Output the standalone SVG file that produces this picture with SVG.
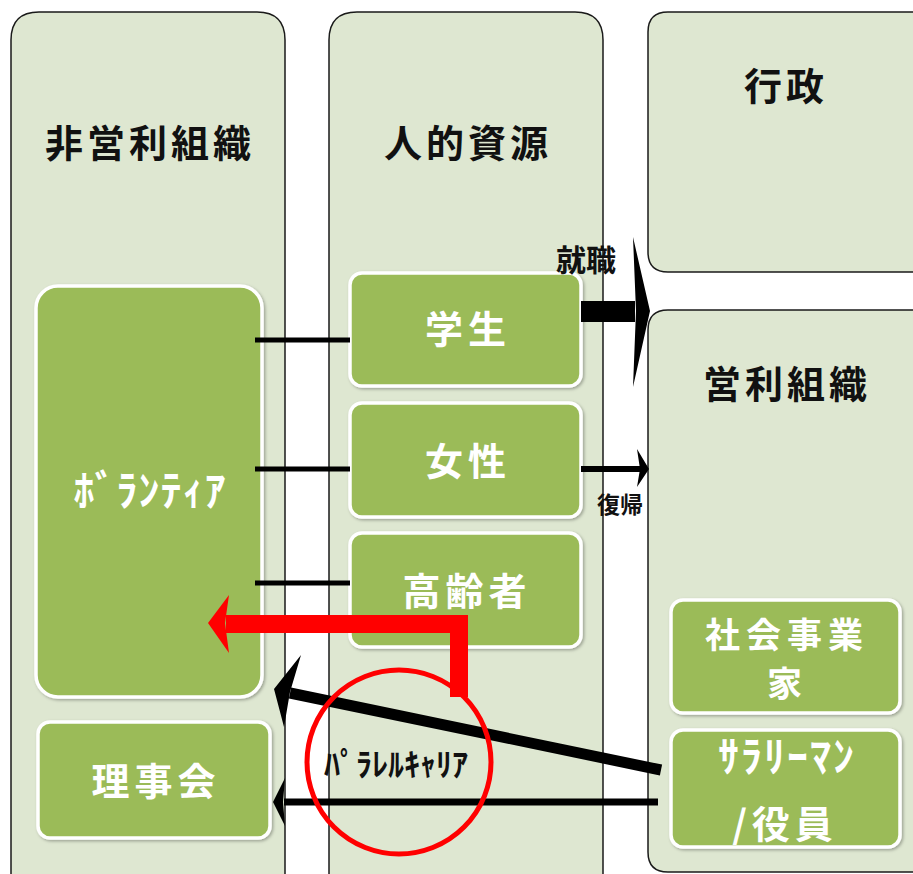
<svg xmlns="http://www.w3.org/2000/svg" width="913" height="874" viewBox="0 0 913 874">
<defs>
<style>
.col{fill:#DEE7D1;stroke:#1a1a1a;stroke-width:1.5}
.box{fill:#9BBB59;stroke:#ffffff;stroke-width:3.5}
.hd{font-family:"Noto Sans CJK JP","Noto Sans CJK SC",sans-serif;font-weight:700;font-size:38px;fill:#111;text-anchor:middle;letter-spacing:4px}
.bt{font-family:"Noto Sans CJK JP","Noto Sans CJK SC",sans-serif;font-weight:700;font-size:38px;fill:#fff;text-anchor:middle;letter-spacing:5px}
.lbl{font-family:"Noto Sans CJK JP","Noto Sans CJK SC",sans-serif;font-weight:700;fill:#111;text-anchor:middle}
.ln{stroke:#000;stroke-width:5;fill:none}
</style>
<filter id="sh" x="-10%" y="-10%" width="130%" height="130%">
<feDropShadow dx="1.5" dy="1.5" stdDeviation="1.5" flood-color="#000" flood-opacity="0.3"/>
</filter>
</defs>
<rect width="913" height="874" fill="#fff"/>

<g id="col-npo">
<path class="col" d="M11,900 V40 Q11,12 39,12 H257 Q285,12 285,40 V900"/>
<text class="hd" x="150" y="157">非営利組織</text>
</g>
<g id="col-hr">
<path class="col" d="M329,900 V40 Q329,12 357,12 H575 Q603,12 603,40 V900"/>
<text class="hd" x="468" y="157">人的資源</text>
</g>
<g id="col-gov">
<path class="col" d="M930,12 H668 Q648,12 648,32 V252 Q648,272 668,272 H930"/>
<text class="hd" x="786" y="100">行政</text>
</g>
<g id="col-corp">
<path class="col" d="M930,310 H668 Q648,310 648,330 V852 Q648,872 668,872 H930"/>
<text class="hd" x="787" y="398">営利組織</text>
</g>

<g id="volunteer">
<rect class="box" x="36" y="286" width="226" height="411" rx="22" filter="url(#sh)"/>
<text class="bt" x="150" y="506" style="font-size:42px;letter-spacing:1px">ﾎﾞﾗﾝﾃｨｱ</text>
</g>
<g id="board">
<rect class="box" x="38" y="722" width="232" height="116" rx="12" filter="url(#sh)"/>
<text class="bt" x="156" y="795">理事会</text>
</g>
<g id="student">
<rect class="box" x="350" y="273" width="231" height="113" rx="12" filter="url(#sh)"/>
<text class="bt" x="468" y="343">学生</text>
</g>
<g id="women">
<rect class="box" x="350" y="403" width="231" height="114" rx="12" filter="url(#sh)"/>
<text class="bt" x="468" y="475">女性</text>
</g>
<g id="elderly">
<rect class="box" x="350" y="533" width="231" height="114" rx="12" filter="url(#sh)"/>
<text class="bt" x="467" y="605">高齢者</text>
</g>
<g id="social-entrepreneur">
<rect class="box" x="671" y="600" width="229" height="113" rx="12" filter="url(#sh)"/>
<text class="bt" x="787" y="648" style="font-size:35px;letter-spacing:6px">社会事業</text>
<text class="bt" x="787" y="697" style="font-size:35px">家</text>
</g>
<g id="salaryman">
<rect class="box" x="671" y="730" width="229" height="117" rx="12" filter="url(#sh)"/>
<text class="bt" x="787" y="772" style="font-size:42px;letter-spacing:2px">ｻﾗﾘｰﾏﾝ</text>
<text class="bt" x="785" y="838">/役員</text>
</g>

<g id="connectors">
<line class="ln" x1="255" y1="340" x2="350" y2="340"/>
<line class="ln" x1="255" y1="469" x2="350" y2="469"/>
<line class="ln" x1="255" y1="583" x2="350" y2="583"/>

<!-- 就職 -->
<rect x="581" y="301" width="54" height="21" fill="#000"/>
<polygon points="633,237 650,311 633,387 636,311" fill="#000"/>
<text class="lbl" x="586" y="271" style="font-size:30px">就職</text>

<!-- 復帰 -->
<line x1="581" y1="469" x2="640" y2="469" stroke="#000" stroke-width="6"/>
<polygon points="637,449 649,469 637,487 640,469" fill="#000"/>
<text class="lbl" x="620" y="513" style="font-size:23px">復帰</text>

<!-- red arrow -->
<polyline points="459,697 459,624 226,624" fill="none" stroke="#ff0000" stroke-width="18"/>
<polygon points="208,623 229,595 225,623 229,653" fill="#ff0000"/>

<!-- parallel career arrows -->
<line x1="661" y1="770" x2="290" y2="693" stroke="#000" stroke-width="11"/>
<polygon points="274,689 301,655 290,692 284,727" fill="#000"/>
<line x1="658" y1="802" x2="284" y2="802" stroke="#000" stroke-width="7"/>
<polygon points="273,802 285,778 283,802 285,826" fill="#000"/>

<circle cx="399" cy="762" r="92" fill="none" stroke="#ff0000" stroke-width="5"/>
<text class="lbl" x="396" y="776" style="font-size:32px">ﾊﾟﾗﾚﾙｷｬﾘｱ</text>
</g>
</svg>
